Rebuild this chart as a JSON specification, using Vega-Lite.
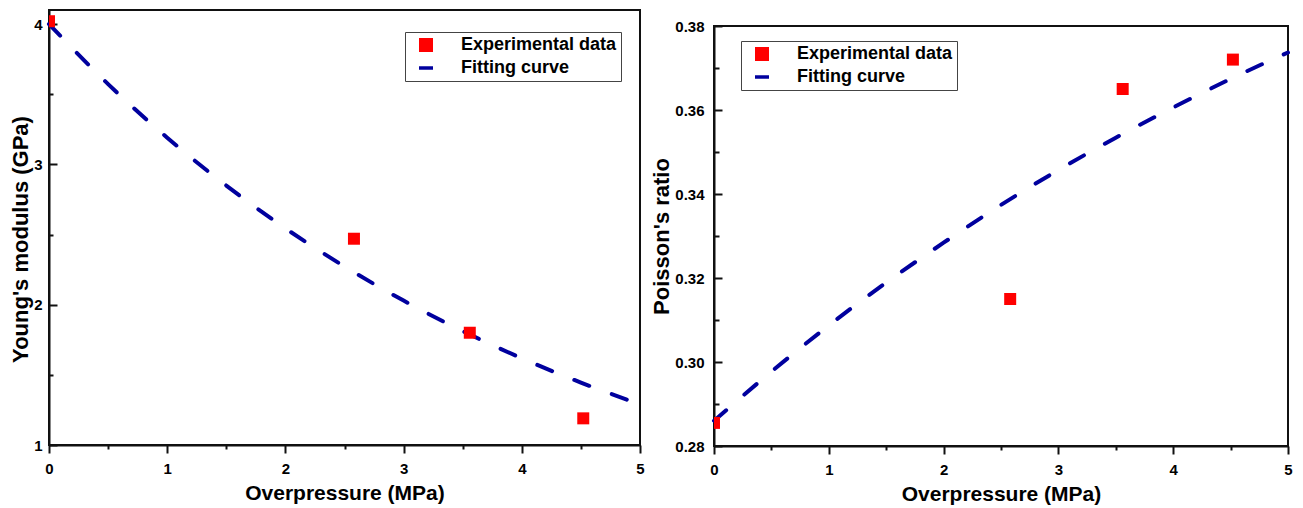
{
  "$schema": "https://vega.github.io/schema/vega-lite/v6.json",
  "background": "white",
  "padding": {"left": 8, "top": 9, "right": 4, "bottom": 0},
  "spacing": 0,
  "resolve": {"scale": {"color": "independent"}, "legend": {"color": "independent"}},
  "datasets": {
    "youngExp": [
      {"p": 0, "v": 4.02, "series": "Experimental data"},
      {"p": 2.58, "v": 2.47, "series": "Experimental data"},
      {"p": 3.56, "v": 1.8, "series": "Experimental data"},
      {"p": 4.52, "v": 1.19, "series": "Experimental data"}
    ],
    "youngFit": [
      {"p": 0, "v": 4.0},
      {"p": 0.5, "v": 3.572},
      {"p": 1, "v": 3.19},
      {"p": 1.5, "v": 2.849},
      {"p": 2, "v": 2.544},
      {"p": 2.5, "v": 2.272},
      {"p": 3, "v": 2.029},
      {"p": 3.5, "v": 1.812},
      {"p": 4, "v": 1.618},
      {"p": 4.5, "v": 1.445},
      {"p": 5, "v": 1.29}
    ],
    "poissonExp": [
      {"p": 0, "v": 0.2855, "series": "Experimental data"},
      {"p": 2.58, "v": 0.315, "series": "Experimental data"},
      {"p": 3.56, "v": 0.365, "series": "Experimental data"},
      {"p": 4.52, "v": 0.372, "series": "Experimental data"}
    ],
    "poissonFit": [
      {"p": 0, "v": 0.286},
      {"p": 0.5, "v": 0.2977},
      {"p": 1, "v": 0.3087},
      {"p": 1.5, "v": 0.3189},
      {"p": 2, "v": 0.3284},
      {"p": 2.5, "v": 0.3374},
      {"p": 3, "v": 0.3457},
      {"p": 3.5, "v": 0.3534},
      {"p": 4, "v": 0.3606},
      {"p": 4.5, "v": 0.3674},
      {"p": 5, "v": 0.3737}
    ]
  },
  "config": {
    "font": "Liberation Sans",
    "view": {"stroke": "#111", "strokeWidth": 2},
    "axis": {
      "grid": false,
      "labelFont": "Liberation Sans",
      "labelFontWeight": "bold",
      "labelFontSize": 15,
      "labelColor": "#000",
      "labelFlush": false,
      "labelOverlap": false,
      "titleFont": "Liberation Sans",
      "titleFontWeight": "bold",
      "titleColor": "#000",
      "domainColor": "#111",
      "domainWidth": 2,
      "tickColor": "#111",
      "tickWidth": 2
    },
    "legend": {
      "orient": "none",
      "title": null,
      "strokeColor": "#444",
      "strokeWidth": 1,
      "fillColor": "white",
      "padding": 4,
      "rowPadding": 5,
      "labelFont": "Liberation Sans",
      "labelFontWeight": "bold",
      "labelFontSize": 18,
      "labelColor": "#000",
      "symbolSize": 196,
      "symbolOffset": 8,
      "labelOffset": 26,
      "symbolOpacity": 1,
      "symbolType": {"expr": "datum.value === 'Fitting curve' ? 'stroke' : 'square'"},
      "symbolStrokeColor": {"expr": "datum.value === 'Fitting curve' ? '#00009E' : 'transparent'"},
      "symbolStrokeWidth": {"expr": "datum.value === 'Fitting curve' ? 3.5 : 0"}
    }
  },
  "hconcat": [
    {
      "width": 591,
      "height": 435,
      "layer": [
        {
          "data": {"name": "youngFit"},
          "mark": {"type": "line", "interpolate": "monotone", "stroke": "#00009E", "strokeWidth": 4, "strokeDash": [16, 24], "strokeCap": "round"},
          "encoding": {
            "x": {"field": "p", "type": "quantitative"},
            "y": {"field": "v", "type": "quantitative"}
          }
        },
        {
          "data": {"name": "youngExp"},
          "mark": {"type": "point", "shape": "square", "filled": true, "size": 144, "opacity": 1, "clip": true},
          "encoding": {
            "x": {
              "field": "p", "type": "quantitative",
              "scale": {"domain": [0, 5], "nice": false, "zero": false},
              "axis": {
                "title": "Overpressure (MPa)",
                "titleFontSize": 21,
                "titlePadding": 6,
                "values": [0, 0.5, 1, 1.5, 2, 2.5, 3, 3.5, 4, 4.5, 5],
                "labelExpr": "datum.value % 1 === 0 ? format(datum.value, 'd') : ''",
                "tickSize": {"condition": {"test": "datum.value % 1 === 0", "value": 8}, "value": 4},
                "labelPadding": 8
              }
            },
            "y": {
              "field": "v", "type": "quantitative",
              "scale": {"domain": [1, 4.1], "nice": false, "zero": false},
              "axis": {
                "title": "Young's modulus (GPa)",
                "titleFontSize": 22,
                "titlePadding": 1,
                "titleY": 229,
                "values": [1, 1.5, 2, 2.5, 3, 3.5, 4],
                "labelExpr": "datum.value % 1 === 0 ? format(datum.value, 'd') : ''",
                "tickSize": {"condition": {"test": "datum.value % 1 === 0", "value": -8}, "value": -4},
                "labelPadding": 15
              }
            },
            "color": {
              "field": "series", "type": "nominal",
              "scale": {"domain": ["Experimental data", "Fitting curve"], "range": ["#FF0000", "#00009E"]},
              "legend": {"legendX": 356, "legendY": 22}
            }
          }
        }
      ]
    },
    {
      "spacing": 0,
      "vconcat": [
        {
          "width": 574,
          "height": 8,
          "view": {"stroke": null},
          "data": {"values": []},
          "mark": {"type": "rule"},
          "encoding": {}
        },
        {
          "width": 574,
          "height": 420,
          "layer": [
            {
              "data": {"name": "poissonFit"},
              "mark": {"type": "line", "interpolate": "monotone", "stroke": "#00009E", "strokeWidth": 4, "strokeDash": [16, 24], "strokeCap": "round"},
              "encoding": {
                "x": {"field": "p", "type": "quantitative"},
                "y": {"field": "v", "type": "quantitative"}
              }
            },
            {
              "data": {"name": "poissonExp"},
              "mark": {"type": "point", "shape": "square", "filled": true, "size": 144, "opacity": 1, "clip": true},
              "encoding": {
                "x": {
                  "field": "p", "type": "quantitative",
                  "scale": {"domain": [0, 5], "nice": false, "zero": false},
                  "axis": {
                    "title": "Overpressure (MPa)",
                    "titleFontSize": 21,
                    "titlePadding": 6,
                    "values": [0, 0.5, 1, 1.5, 2, 2.5, 3, 3.5, 4, 4.5, 5],
                    "labelExpr": "datum.value % 1 === 0 ? format(datum.value, 'd') : ''",
                    "tickSize": {"condition": {"test": "datum.value % 1 === 0", "value": 8}, "value": 4},
                    "labelPadding": 8
                  }
                },
                "y": {
                  "field": "v", "type": "quantitative",
                  "scale": {"domain": [0.28, 0.38], "nice": false, "zero": false},
                  "axis": {
                    "title": "Poisson's ratio",
                    "titleFontSize": 22,
                    "titlePadding": 1,
                    "values": [0.28, 0.29, 0.3, 0.31, 0.32, 0.33, 0.34, 0.35, 0.36, 0.37, 0.38],
                    "labelExpr": "round(datum.value * 100) % 2 === 0 ? format(datum.value, '.2f') : ''",
                    "tickSize": {"condition": {"test": "round(datum.value * 100) % 2 === 0", "value": -8}, "value": -5},
                    "labelPadding": 18
                  }
                },
                "color": {
                  "field": "series", "type": "nominal",
                  "scale": {"domain": ["Experimental data", "Fitting curve"], "range": ["#FF0000", "#00009E"]},
                  "legend": {"legendX": 27, "legendY": 31}
                }
              }
            }
          ]
        }
      ]
    }
  ]
}
